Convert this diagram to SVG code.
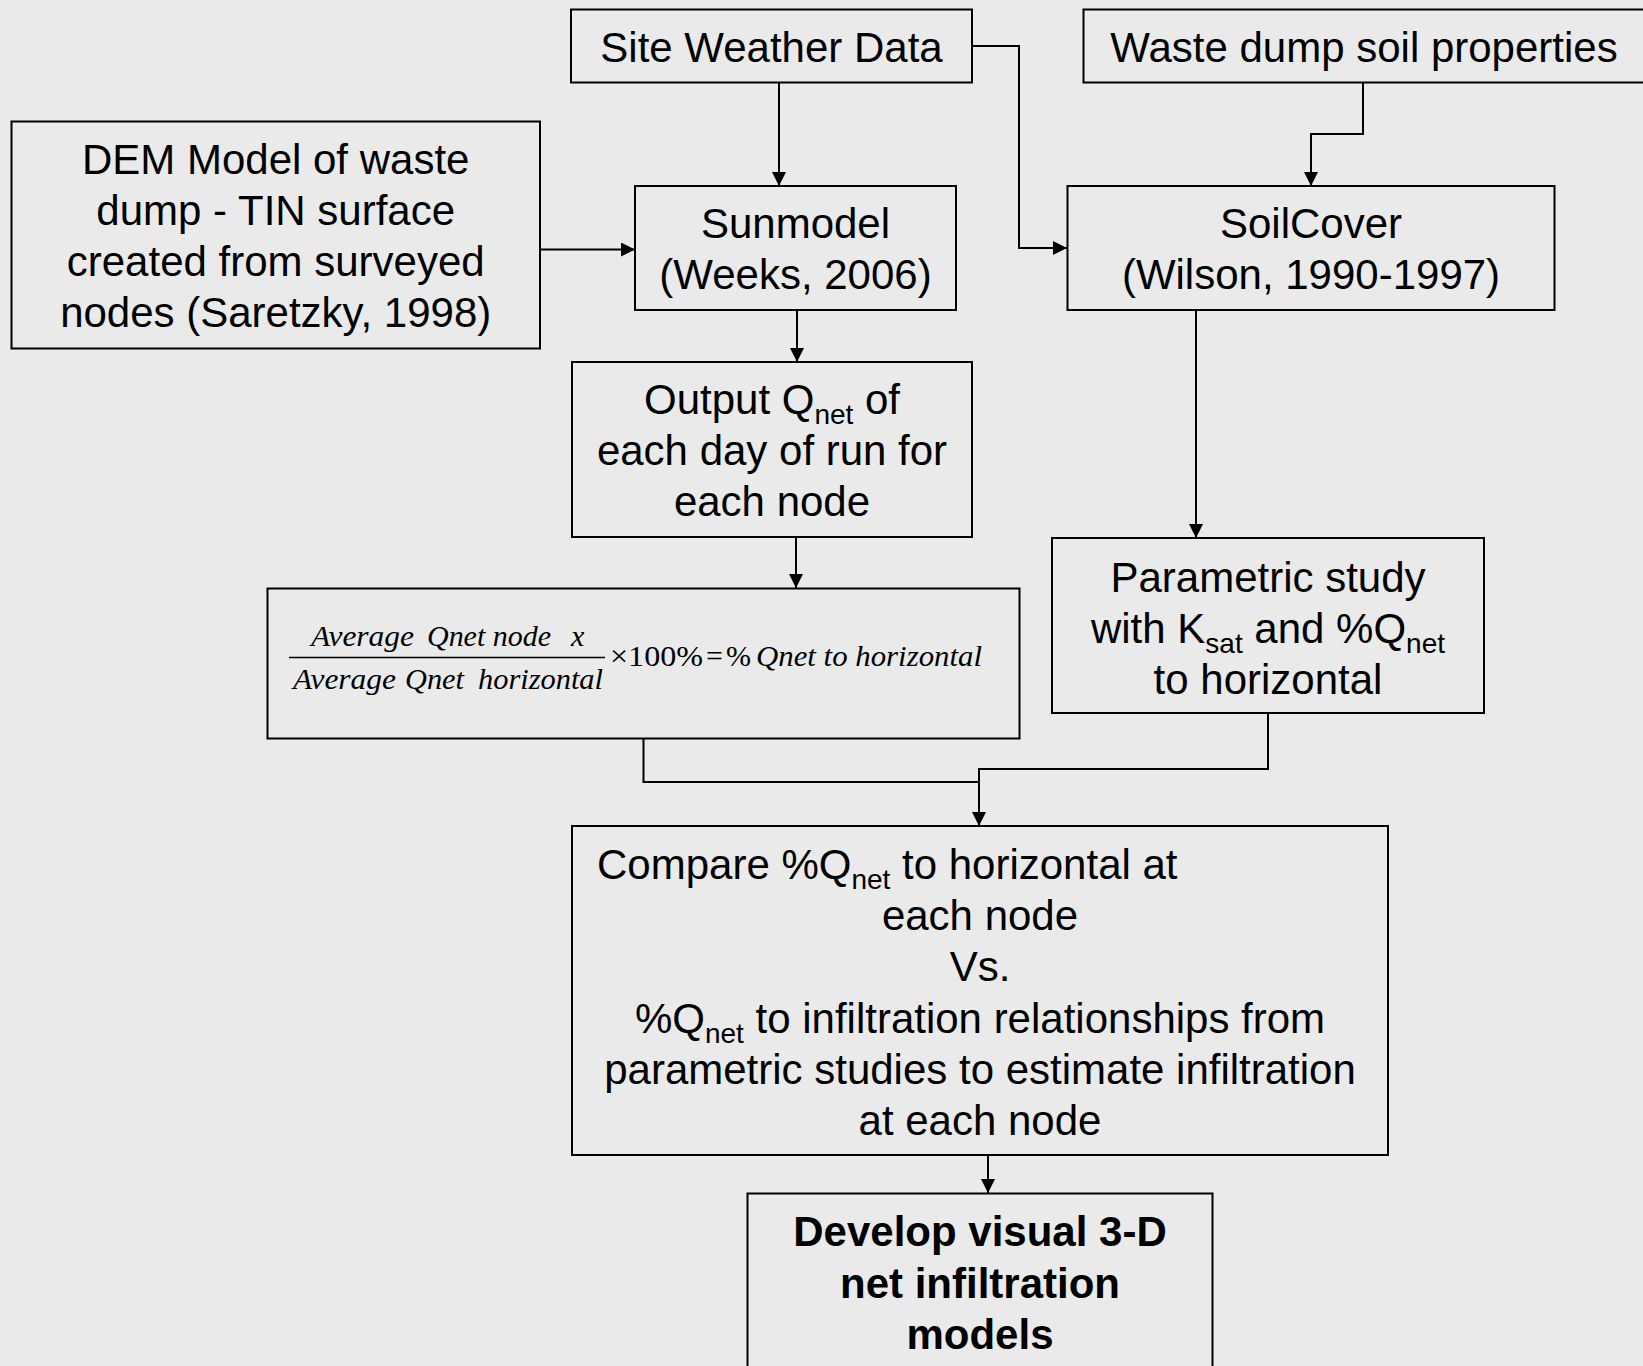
<svg xmlns="http://www.w3.org/2000/svg" width="1643" height="1366" viewBox="0 0 1643 1366">
<defs>
<marker id="arr" viewBox="0 0 10 10" refX="10" refY="5" markerWidth="15" markerHeight="14" markerUnits="userSpaceOnUse" orient="auto">
<path d="M0,0 L10,5 L0,10 z" fill="#000"/>
</marker>
<style>
.box{fill:none;stroke:#000;stroke-width:2}
.t{font-family:"Liberation Sans",Arial,sans-serif;font-size:42px;fill:#000;text-anchor:middle}
.tl{font-family:"Liberation Sans",Arial,sans-serif;font-size:42px;fill:#000}
.b{font-weight:bold}
.sub{font-size:28px}
.m{font-family:"Liberation Serif","Times New Roman",serif;font-size:30px;fill:#000}
.mi{font-style:italic}
.c{fill:none;stroke:#000;stroke-width:2}
</style>
</defs>
<rect width="1643" height="1366" fill="#e9eae9"/>

<g id="connectors">
<path class="c" d="M779,82 V186" marker-end="url(#arr)"/>
<path class="c" d="M972,46 H1019 V248 H1067" marker-end="url(#arr)"/>
<path class="c" d="M1363,82 V134 H1311 V186" marker-end="url(#arr)"/>
<path class="c" d="M540,249.5 H635" marker-end="url(#arr)"/>
<path class="c" d="M797,310 V362" marker-end="url(#arr)"/>
<path class="c" d="M796,537 V588" marker-end="url(#arr)"/>
<path class="c" d="M1196,310 V538" marker-end="url(#arr)"/>
<path class="c" d="M643.5,738 V782 H979"/>
<path class="c" d="M1268,713 V769 H979 V826" marker-end="url(#arr)"/>
<path class="c" d="M988,1155 V1193" marker-end="url(#arr)"/>
</g>

<g id="site-weather">
<rect class="box" x="571" y="9.5" width="401" height="73"/>
<text class="t" x="771.5" y="61.5">Site Weather Data</text>
</g>

<g id="waste-dump">
<rect class="box" x="1083.5" y="9.5" width="562" height="73"/>
<text class="t" x="1364" y="61.5">Waste dump soil properties</text>
</g>

<g id="dem">
<rect class="box" x="11.5" y="121.5" width="528.5" height="227"/>
<text class="t" x="275.7" y="174">DEM Model of waste</text>
<text class="t" x="275.7" y="225">dump - TIN surface</text>
<text class="t" x="275.7" y="276">created from surveyed</text>
<text class="t" x="275.7" y="327">nodes (Saretzky, 1998)</text>
</g>

<g id="sunmodel">
<rect class="box" x="635" y="186" width="321" height="124"/>
<text class="t" x="795.5" y="238">Sunmodel</text>
<text class="t" x="795.5" y="289">(Weeks, 2006)</text>
</g>

<g id="soilcover">
<rect class="box" x="1067.5" y="186" width="487" height="124"/>
<text class="t" x="1311" y="238">SoilCover</text>
<text class="t" x="1311" y="289">(Wilson, 1990-1997)</text>
</g>

<g id="output-qnet">
<rect class="box" x="572" y="362" width="400" height="175"/>
<text class="t" x="772" y="414">Output Q<tspan class="sub" dy="10">net</tspan><tspan dy="-10"> of</tspan></text>
<text class="t" x="772" y="465">each day of run for</text>
<text class="t" x="772" y="516">each node</text>
</g>

<g id="formula">
<rect class="box" x="267.5" y="588.5" width="752" height="150"/>
<text class="m mi" x="311" y="646" textLength="103" lengthAdjust="spacingAndGlyphs">Average</text>
<text class="m mi" x="427" y="646" textLength="124" lengthAdjust="spacingAndGlyphs">Qnet node</text>
<text class="m mi" x="571" y="646">x</text>
<line x1="289" y1="657.5" x2="605" y2="657.5" stroke="#000" stroke-width="1.5"/>
<text class="m mi" x="293" y="689" textLength="103" lengthAdjust="spacingAndGlyphs">Average</text>
<text class="m mi" x="405" y="689" textLength="59" lengthAdjust="spacingAndGlyphs">Qnet</text>
<text class="m mi" x="478" y="689" textLength="125" lengthAdjust="spacingAndGlyphs">horizontal</text>
<text class="m" x="610" y="666" textLength="93" lengthAdjust="spacingAndGlyphs">×100%</text>
<text class="m" x="706" y="666">=</text>
<text class="m" x="726" y="666">%</text>
<text class="m mi" x="756" y="666" textLength="226" lengthAdjust="spacingAndGlyphs">Qnet to horizontal</text>
</g>

<g id="parametric">
<rect class="box" x="1052" y="538" width="432" height="175"/>
<text class="t" x="1268" y="592">Parametric study</text>
<text class="t" x="1268" y="643">with K<tspan class="sub" dy="10">sat</tspan><tspan dy="-10"> and %Q</tspan><tspan class="sub" dy="10">net</tspan></text>
<text class="t" x="1268" y="694">to horizontal</text>
</g>

<g id="compare">
<rect class="box" x="572" y="826" width="816" height="329"/>
<text class="tl" x="597" y="879">Compare %Q<tspan class="sub" dy="10">net</tspan><tspan dy="-10"> to horizontal at</tspan></text>
<text class="t" x="980" y="930">each node</text>
<text class="t" x="980" y="981">Vs.</text>
<text class="t" x="980" y="1033">%Q<tspan class="sub" dy="10">net</tspan><tspan dy="-10"> to infiltration relationships from</tspan></text>
<text class="t" x="980" y="1084">parametric studies to estimate infiltration</text>
<text class="t" x="980" y="1135">at each node</text>
</g>

<g id="develop">
<rect class="box" x="747.5" y="1193.5" width="465" height="185"/>
<text class="t b" x="980" y="1246">Develop visual 3-D</text>
<text class="t b" x="980" y="1298">net infiltration</text>
<text class="t b" x="980" y="1349">models</text>
</g>
</svg>
